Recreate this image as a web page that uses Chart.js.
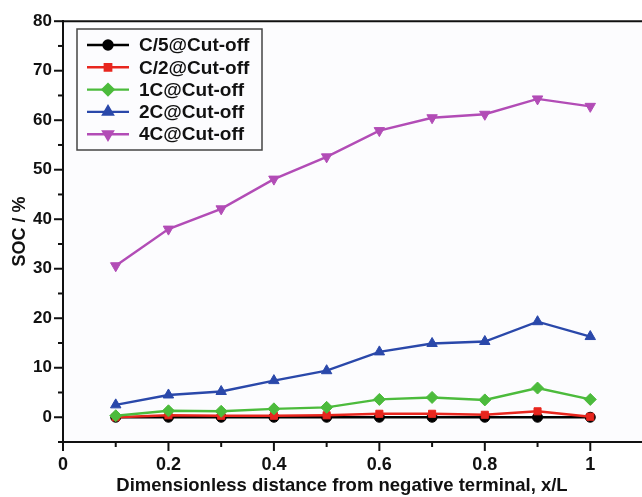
<!DOCTYPE html>
<html>
<head>
<meta charset="utf-8">
<script src="https://cdn.jsdelivr.net/npm/chart.js@4.4.0/dist/chart.umd.min.js"></script>
<style>
  html, body { margin: 0; padding: 0; background: #fff; overflow: hidden; }
  #wrap { width: 650px; height: 497px; }
</style>
</head>
<body>
<div id="wrap"><canvas id="socChart"></canvas></div>
<script>
// Data
const xPositions = [0.1, 0.2, 0.3, 0.4, 0.5, 0.6, 0.7, 0.8, 0.9, 1.0];
const seriesNames = ['C/5@Cut-off', 'C/2@Cut-off', '1C@Cut-off', '2C@Cut-off', '4C@Cut-off'];
const socC5 = [0.0, 0.0, 0.0, 0.0, 0.0, 0.0, 0.0, 0.0, 0.0, 0.0];
const socC2 = [0.0, 0.4, 0.3, 0.3, 0.4, 0.7, 0.7, 0.5, 1.2, 0.1];
const soc1C = [0.3, 1.3, 1.2, 1.7, 2.0, 3.6, 4.0, 3.5, 5.9, 3.6];
const soc2C = [2.5, 4.5, 5.2, 7.4, 9.4, 13.2, 14.9, 15.3, 19.3, 16.3];
const soc4C = [30.6, 38.0, 42.1, 48.1, 52.6, 57.9, 60.5, 61.2, 64.3, 62.8];
const xTickLabels = ['0', '0.2', '0.4', '0.6', '0.8', '1'];
const yTickLabels = ['0', '10', '20', '30', '40', '50', '60', '70', '80'];
const xTitle = 'Dimensionless distance from negative terminal, x/L';

const colors = ['#000000', '#e8261e', '#4cbb3c', '#2a48aa', '#b24cb6'];
const pointStyles = ['circle', 'rect', 'rectRot', 'triangle', 'triangle'];
const rotations = [0, 0, 0, 0, 180];
const radii = [5, 5, 6, 6, 6];
const allSeries = [socC5, socC2, soc1C, soc2C, soc4C];
const fontFamily = '"Liberation Sans", Arial, sans-serif';

const datasets = allSeries.map((vals, i) => ({
    label: seriesNames[i],
    data: xPositions.map((x, j) => ({ x: x, y: vals[j] })),
    borderColor: colors[i],
    backgroundColor: colors[i],
    borderWidth: 2.4,
    pointStyle: pointStyles[i],
    pointRotation: rotations[i],
    pointRadius: radii[i],
    pointBorderWidth: 1,
    order: 5 - i
}));

// plot background, frame, tick marks, x title and legend box
const decorPlugin = {
    id: 'decor',
    beforeDraw(chart) {
        const { ctx, chartArea: a } = chart;
        ctx.save();
        ctx.fillStyle = '#fcfcfe';
        ctx.fillRect(a.left, a.top, a.right - a.left, a.bottom - a.top);
        ctx.restore();
    },
    afterDraw(chart) {
        const { ctx, chartArea: a } = chart;
        const xs = chart.scales.x, ys = chart.scales.y;
        ctx.save();
        ctx.strokeStyle = '#111';
        ctx.lineWidth = 2;
        // top frame line
        ctx.beginPath();
        ctx.moveTo(a.left, a.top);
        ctx.lineTo(a.right, a.top);
        ctx.stroke();
        // y ticks
        for (let v = -5; v <= 80; v += 5) {
            const y = ys.getPixelForValue(v);
            const len = v % 10 === 0 ? 9 : 5;
            ctx.beginPath();
            ctx.moveTo(a.left, y);
            ctx.lineTo(a.left - len, y);
            ctx.stroke();
        }
        // x ticks
        for (let k = 0; k <= 11; k++) {
            const x = xs.getPixelForValue(k / 10);
            const len = k % 2 === 0 ? 9 : 5;
            ctx.beginPath();
            ctx.moveTo(x, a.bottom);
            ctx.lineTo(x, a.bottom + len);
            ctx.stroke();
        }
        // x axis title (slightly left of the plot centre, as in the figure)
        ctx.fillStyle = '#111';
        ctx.font = 'bold 18.5px ' + fontFamily;
        ctx.textAlign = 'center';
        ctx.textBaseline = 'middle';
        ctx.fillText(xTitle, 342, 486);
        // legend
        const lx = 77, ly = 29, lw = 185, lh = 121;
        ctx.fillStyle = '#fcfcfe';
        ctx.fillRect(lx, ly, lw, lh);
        ctx.strokeStyle = '#444';
        ctx.lineWidth = 1.5;
        ctx.strokeRect(lx, ly, lw, lh);
        ctx.font = 'bold 19px ' + fontFamily;
        ctx.textBaseline = 'middle';
        ctx.textAlign = 'left';
        seriesNames.forEach((name, i) => {
            const cy = 45 + i * 22.3;
            ctx.strokeStyle = colors[i];
            ctx.lineWidth = 2.4;
            ctx.beginPath();
            ctx.moveTo(87, cy);
            ctx.lineTo(129, cy);
            ctx.stroke();
            ctx.fillStyle = colors[i];
            Chart.helpers.drawPoint(ctx, {
                pointStyle: pointStyles[i],
                rotation: rotations[i],
                radius: radii[i] - 0.5,
                borderWidth: 1
            }, 108, cy);
            ctx.fillStyle = '#111';
            ctx.fillText(name, 139, cy + 1);
        });
        ctx.restore();
    }
};

new Chart(document.getElementById('socChart'), {
    type: 'line',
    data: { datasets: datasets },
    plugins: [decorPlugin],
    options: {
        responsive: true,
        maintainAspectRatio: false,
        animation: false,
        layout: { padding: { left: 0, top: 20, right: 2, bottom: 0 } },
        plugins: { legend: { display: false }, tooltip: { enabled: false } },
        scales: {
            x: {
                type: 'linear',
                min: 0,
                max: 1.1,
                afterFit(scale) { scale.height = 55; },
                afterBuildTicks(scale) {
                    scale.ticks = xTickLabels.map(t => ({ value: parseFloat(t) }));
                },
                ticks: {
                    padding: 12,
                    color: '#111',
                    font: { family: fontFamily, size: 18, weight: 'bold' },
                    callback: (v, idx) => xTickLabels[idx]
                },
                grid: { display: false, drawTicks: false },
                border: { display: true, color: '#111', width: 2 }
            },
            y: {
                min: -5,
                max: 80,
                afterFit(scale) { scale.width = 63; },
                afterBuildTicks(scale) {
                    scale.ticks = yTickLabels.map(t => ({ value: parseFloat(t) }));
                },
                ticks: {
                    padding: 11,
                    color: '#111',
                    font: { family: fontFamily, size: 17, weight: 'bold' },
                    callback: (v, idx) => yTickLabels[idx]
                },
                grid: { display: false, drawTicks: false },
                border: { display: true, color: '#111', width: 2 },
                title: {
                    display: true,
                    text: 'SOC / %',
                    color: '#111',
                    font: { family: fontFamily, size: 18, weight: 'bold' },
                    padding: { top: 9, bottom: 0 }
                }
            }
        }
    }
});
</script>
</body>
</html>
